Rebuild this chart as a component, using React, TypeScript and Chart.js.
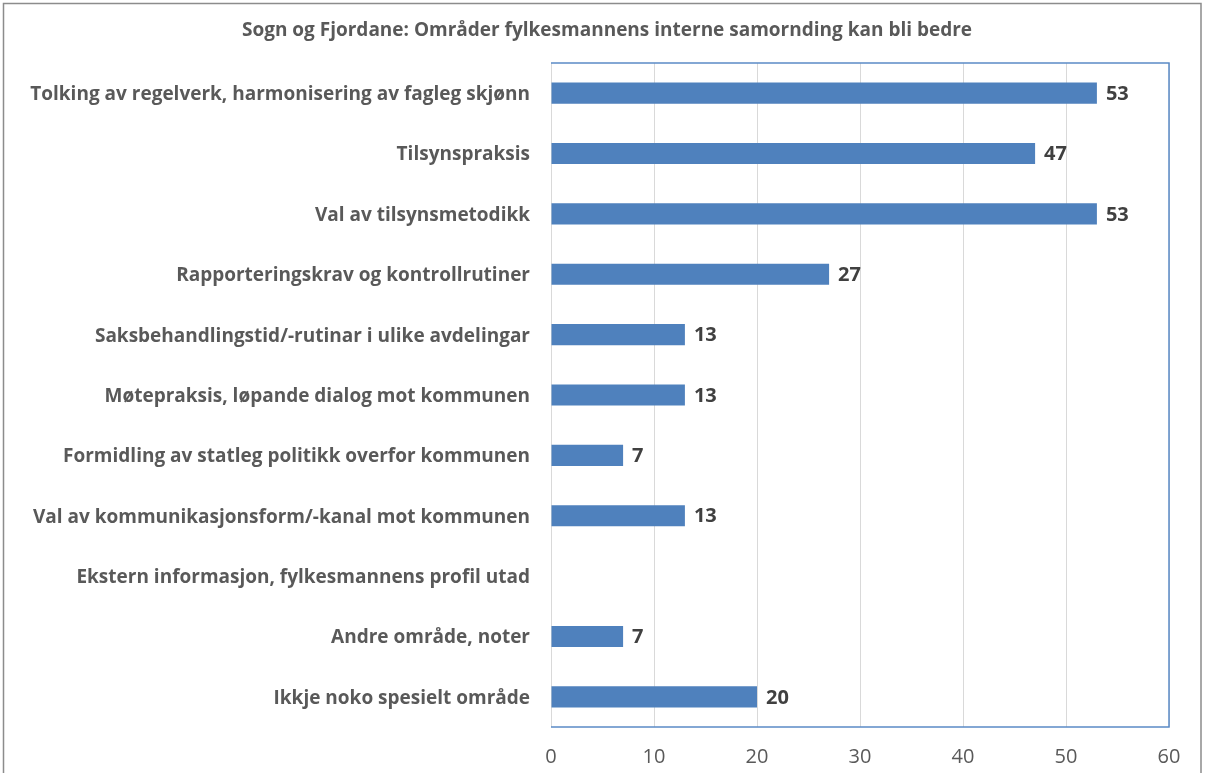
import React, { useEffect, useRef } from "react";
import { Chart, registerables } from "chart.js";

Chart.register(...registerables);

const title = "Sogn og Fjordane: Områder fylkesmannens interne samornding kan bli bedre";
const categories = [
  "Tolking av regelverk, harmonisering av fagleg skjønn",
  "Tilsynspraksis",
  "Val av tilsynsmetodikk",
  "Rapporteringskrav og kontrollrutiner",
  "Saksbehandlingstid/-rutinar i ulike avdelingar",
  "Møtepraksis, løpande dialog mot kommunen",
  "Formidling av statleg politikk overfor kommunen",
  "Val av kommunikasjonsform/-kanal mot kommunen",
  "Ekstern informasjon, fylkesmannens profil utad",
  "Andre område, noter",
  "Ikkje noko spesielt område",
];
const values: (number | null)[] = [53, 47, 53, 27, 13, 13, 7, 13, null, 7, 20];
const xMin = 0;
const xMax = 60;
const xStep = 10;

const FONT = "'Open Sans', sans-serif";

export default function App() {
  const ref = useRef<HTMLCanvasElement | null>(null);

  useEffect(() => {
    document.body.style.margin = "0";
    const canvas = ref.current!;
    const framePlugin = {
      id: "frame",
      beforeDraw(chart: any) {
        const ctx = chart.ctx;
        ctx.save();
        ctx.fillStyle = "#ffffff";
        ctx.fillRect(0, 0, chart.width, chart.height);
        ctx.strokeStyle = "#8c8c8c";
        ctx.lineWidth = 1.5;
        ctx.beginPath();
        ctx.moveTo(3.5, chart.height + 5);
        ctx.lineTo(3.5, 3.5);
        ctx.lineTo(1201, 3.5);
        ctx.lineTo(1201, chart.height + 5);
        ctx.stroke();
        ctx.fillStyle = "#595959";
        ctx.font = `bold 19px ${FONT}`;
        ctx.textAlign = "center";
        ctx.textBaseline = "middle";
        ctx.fillText(title, 607, 31);
        ctx.restore();
      },
      afterDatasetsDraw(chart: any) {
        const ctx = chart.ctx;
        const a = chart.chartArea;
        ctx.save();
        ctx.strokeStyle = "#5B8BC6";
        ctx.lineWidth = 1.5;
        ctx.beginPath();
        ctx.moveTo(a.left, a.top);
        ctx.lineTo(a.right, a.top);
        ctx.lineTo(a.right, a.bottom);
        ctx.lineTo(a.left, a.bottom);
        ctx.stroke();
        const meta = chart.getDatasetMeta(0);
        ctx.fillStyle = "#404040";
        ctx.font = `bold 20px ${FONT}`;
        ctx.textAlign = "left";
        ctx.textBaseline = "middle";
        meta.data.forEach((el: any, i: number) => {
          const v = values[i];
          if (v === null || v === undefined) return;
          ctx.fillText(String(v), el.x + 9, el.y + 1);
        });
        ctx.restore();
      },
    };

    const chart = new Chart(canvas, {
      type: "bar",
      data: {
        labels: categories,
        datasets: [
          {
            data: values as any,
            backgroundColor: "#4F81BD",
            borderWidth: 0,
            barPercentage: 0.35,
            categoryPercentage: 1,
          },
        ],
      },
      options: {
        indexAxis: "y",
        animation: false,
        responsive: false,
        layout: { padding: { top: 63, right: 42, left: 0, bottom: 0 } },
        plugins: {
          legend: { display: false },
          tooltip: { enabled: false },
          title: { display: false },
        },
        scales: {
          x: {
            min: xMin,
            max: xMax,
            ticks: {
              stepSize: xStep,
              color: "#595959",
              padding: 18,
              font: { family: FONT, size: 20 },
            },
            grid: { color: "#D9D9D9", lineWidth: 1, drawTicks: false },
            border: { display: false },
            afterFit(scale: any) {
              scale.height = 46;
            },
          },
          y: {
            ticks: {
              color: "#595959",
              padding: 21,
              labelOffset: 1.5,
              font: { family: FONT, size: 19, weight: "bold" },
            },
            grid: { display: false, drawTicks: false },
            border: { display: false },
            afterFit(scale: any) {
              scale.width = 551;
            },
          },
        },
      },
      plugins: [framePlugin],
    });
    return () => chart.destroy();
  }, []);

  return (
    <div style={{ position: "absolute", left: 0, top: 0, width: 1211, height: 773 }}>
      <canvas ref={ref} width={1211} height={773} />
    </div>
  );
}
